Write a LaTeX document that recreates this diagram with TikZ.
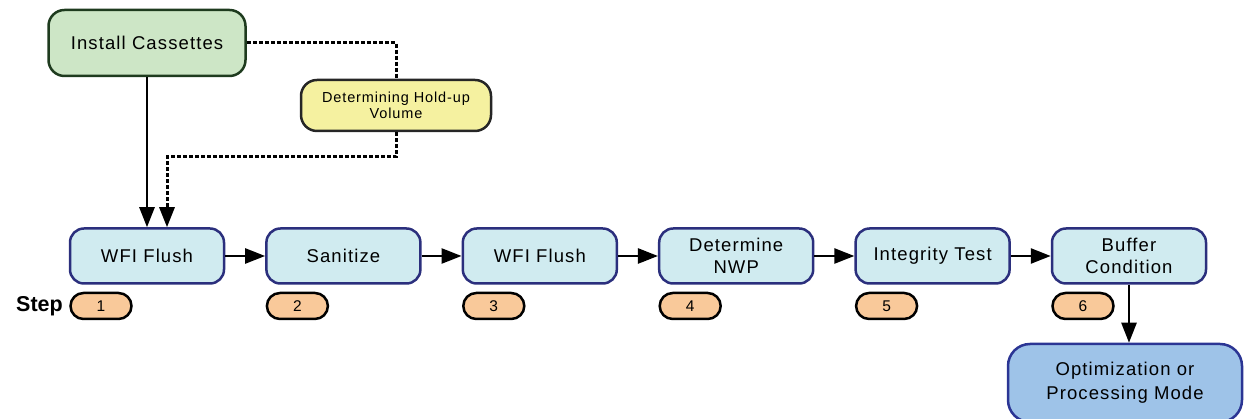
\documentclass[tikz,border=0pt]{standalone}
\usepackage{fontspec}
\setmainfont{Liberation Sans}
\newfontfamily\spacedfont[LetterSpace=6]{Liberation Sans}
\usepackage{tikz}
\usetikzlibrary{arrows.meta}

\definecolor{boxfill}{HTML}{D0EBF0}
\definecolor{boxline}{HTML}{2B2F7D}
\definecolor{installfill}{HTML}{CDE6C6}
\definecolor{installline}{HTML}{1E3B1E}
\definecolor{holdfill}{HTML}{F5F1A0}
\definecolor{pillfill}{HTML}{F9C99A}
\definecolor{modefill}{HTML}{9EC3E8}
\definecolor{modeline}{HTML}{2B3594}

\begin{document}
\begin{tikzpicture}[x=1pt,y=1pt,
  stepbox/.style={draw=boxline, fill=boxfill, line width=2.5pt,
    rounded corners=14pt, minimum width=154pt, minimum height=55pt,
    align=center, inner sep=0pt,
    font=\spacedfont\fontsize{18.5}{22}\selectfont},
  pill/.style={draw=black, fill=pillfill, line width=2.5pt,
    rounded corners=13pt, minimum width=61pt, minimum height=26pt,
    inner sep=0pt, font=\spacedfont\fontsize{15.5}{18}\selectfont},
  link/.style={line width=2.5pt, -{Triangle[length=20pt,width=15pt]}},
  dashlink/.style={line width=3pt, dash pattern=on 4pt off 2pt}]

\useasboundingbox (0,0) rectangle (1244,419);

% top boxes
\node [draw=installline, fill=installfill, line width=2.5pt,
  rounded corners=16pt, minimum width=197pt, minimum height=66pt,
  font=\spacedfont\fontsize{18.5}{22}\selectfont]
  (install) at (147,376) {Install Cassettes};
\node [draw=black!85, fill=holdfill, line width=2.5pt,
  rounded corners=16pt, minimum width=190pt, minimum height=51pt,
  align=center, inner sep=0pt,
  font=\spacedfont\fontsize{14.5}{16.5}\selectfont]
  (hold) at (396,313.5) {Determining Hold-up\\Volume};

% process steps
\node [stepbox] (wfi1)     at ( 147.0,163) {WFI Flush};
\node [stepbox] (sanitize) at ( 343.4,163) {Sanitize};
\node [stepbox] (wfi2)     at ( 539.8,163) {WFI Flush};
\node [stepbox] (nwp)      at ( 736.2,163) {Determine\\NWP};
\node [stepbox] (integ)    at ( 932.6,163) {Integrity Test};
\node [stepbox] (buffer)   at (1129.0,163) {Buffer\\Condition};

\node [draw=modeline, fill=modefill, line width=2.5pt,
  rounded corners=22pt, minimum width=234pt, minimum height=78pt,
  align=center, inner sep=0pt,
  font=\spacedfont\fontsize{18.5}{24}\selectfont]
  (mode) at (1125,36) {Optimization or\\Processing Mode};

% step numbers
\node [anchor=east, inner sep=0pt, font=\bfseries\fontsize{21.5}{24}\selectfont]
  (steplabel) at (63,113) {Step};
\node [pill] (n1) at ( 101.0,113) {1};
\node [pill] (n2) at ( 297.4,113) {2};
\node [pill] (n3) at ( 493.8,113) {3};
\node [pill] (n4) at ( 690.2,113) {4};
\node [pill] (n5) at ( 886.6,113) {5};
\node [pill] (n6) at (1083.0,113) {6};

% connectors
\draw [link] (install) -- (wfi1);
\draw [dashlink] (install.east) -| (hold.north);
\coordinate (bend) at (167,262);
\draw [dashlink, -{Triangle[length=20pt,width=15pt]}]
  (hold.south) |- (bend) -- (bend |- wfi1.north);

\draw [link] (wfi1) -- (sanitize);
\draw [link] (sanitize) -- (wfi2);
\draw [link] (wfi2) -- (nwp);
\draw [link] (nwp) -- (integ);
\draw [link] (integ) -- (buffer);
\draw [link] (buffer.south) -- (buffer.south |- mode.north);

\end{tikzpicture}
\end{document}
